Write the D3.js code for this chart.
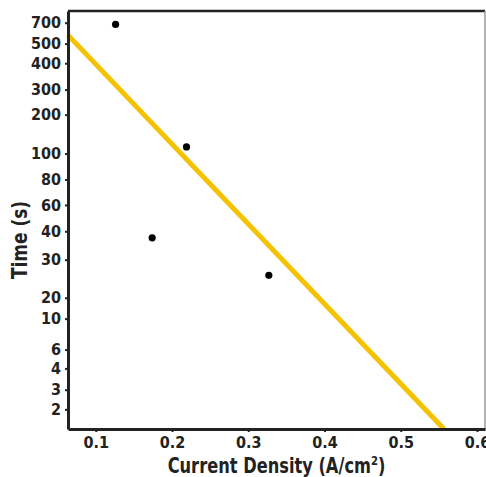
<!DOCTYPE html>
<html>
<head>
<meta charset="utf-8">
<script src="https://cdn.jsdelivr.net/npm/d3@7"></script>
<style>
  body { margin: 0; background: #fff; }
  svg text { font-family: "Liberation Sans Narrow", "DejaVu Sans Condensed", "Roboto", sans-serif; font-weight: bold; fill: #222; }
</style>
</head>
<body>
<svg id="chart" width="486" height="477"></svg>
<script>
// data
const currentDensity = [0.126, 0.219, 0.174, 0.327];
const timeSec = [684, 117, 37.7, 25.9];
const fitX = [0.0636, 0.5567];
const fitY = [581, 1];

const xTicks = [0.1, 0.2, 0.3, 0.4, 0.5, 0.6];
const yTicks = [700, 500, 400, 300, 200, 100, 80, 60, 40, 30, 20, 10, 6, 4, 3, 2];

// the original y axis is not evenly spaced, so it is rebuilt piecewise
const yDomain = [800, ...yTicks, 1];
const yFrac = [0, 0.028, 0.078, 0.125, 0.188, 0.248, 0.341, 0.403, 0.464, 0.527, 0.595, 0.686, 0.736, 0.81, 0.855, 0.906, 0.953, 1];

const margin = { top: 11, right: 1, bottom: 48, left: 68 };
const width = 486, height = 477;
const iw = width - margin.left - margin.right;
const ih = height - margin.top - margin.bottom;

const svg = d3.select('#chart');
const g = svg.append('g').attr('transform', `translate(${margin.left},${margin.top})`);

const x = d3.scaleLinear().domain([0.0636, 0.6105]).range([0, iw]);
const y = d3.scaleLinear().domain(yDomain).range(yFrac.map(f => f * ih));

// frame: dark top, gray right
g.append('line').attr('x1', 0).attr('x2', iw).attr('y1', 0).attr('y2', 0)
  .attr('stroke', '#222').attr('stroke-width', 2.5);
g.append('line').attr('x1', iw).attr('x2', iw).attr('y1', 0).attr('y2', ih)
  .attr('stroke', '#999').attr('stroke-width', 1.5);

// fit line
g.append('line')
  .attr('x1', x(fitX[0])).attr('y1', y(fitY[0]))
  .attr('x2', x(fitX[1])).attr('y2', y(fitY[1]))
  .attr('stroke', '#f5c200').attr('stroke-width', 5);

// points
g.selectAll('circle.pt')
  .data(currentDensity.map((d, i) => ({ x: d, y: timeSec[i] })))
  .enter().append('circle')
  .attr('class', 'pt')
  .attr('cx', d => x(d.x)).attr('cy', d => y(d.y))
  .attr('r', 3.6).attr('fill', '#000');

// axes
const xAxis = g.append('g').attr('transform', `translate(0,${ih})`)
  .call(d3.axisBottom(x).tickValues(xTicks).tickSize(3).tickSizeOuter(0).tickPadding(5).tickFormat(d3.format('.1f')));
const yAxis = g.append('g')
  .call(d3.axisLeft(y).tickValues(yTicks).tickSize(3).tickSizeOuter(0).tickPadding(4).tickFormat(d3.format('d')));

[xAxis, yAxis].forEach(a => {
  a.select('.domain').attr('stroke', '#222').attr('stroke-width', 3);
  a.selectAll('.tick line').attr('stroke', '#222').attr('stroke-width', 2);
  a.selectAll('.tick text').attr('font-size', 16).attr('fill', '#222');
});

// axis titles (squeezed a bit, the original uses a condensed face)
svg.append('text')
  .attr('transform', `translate(${margin.left + iw / 2},473) scale(0.86,1)`)
  .attr('text-anchor', 'middle').attr('font-size', 21)
  .html('Current Density (A/cm<tspan baseline-shift="super" font-size="13">2</tspan>)');

svg.append('text')
  .attr('transform', `translate(27,${margin.top + 229}) rotate(-90) scale(0.9,1)`)
  .attr('text-anchor', 'middle').attr('font-size', 21)
  .text('Time (s)');
</script>
</body>
</html>
